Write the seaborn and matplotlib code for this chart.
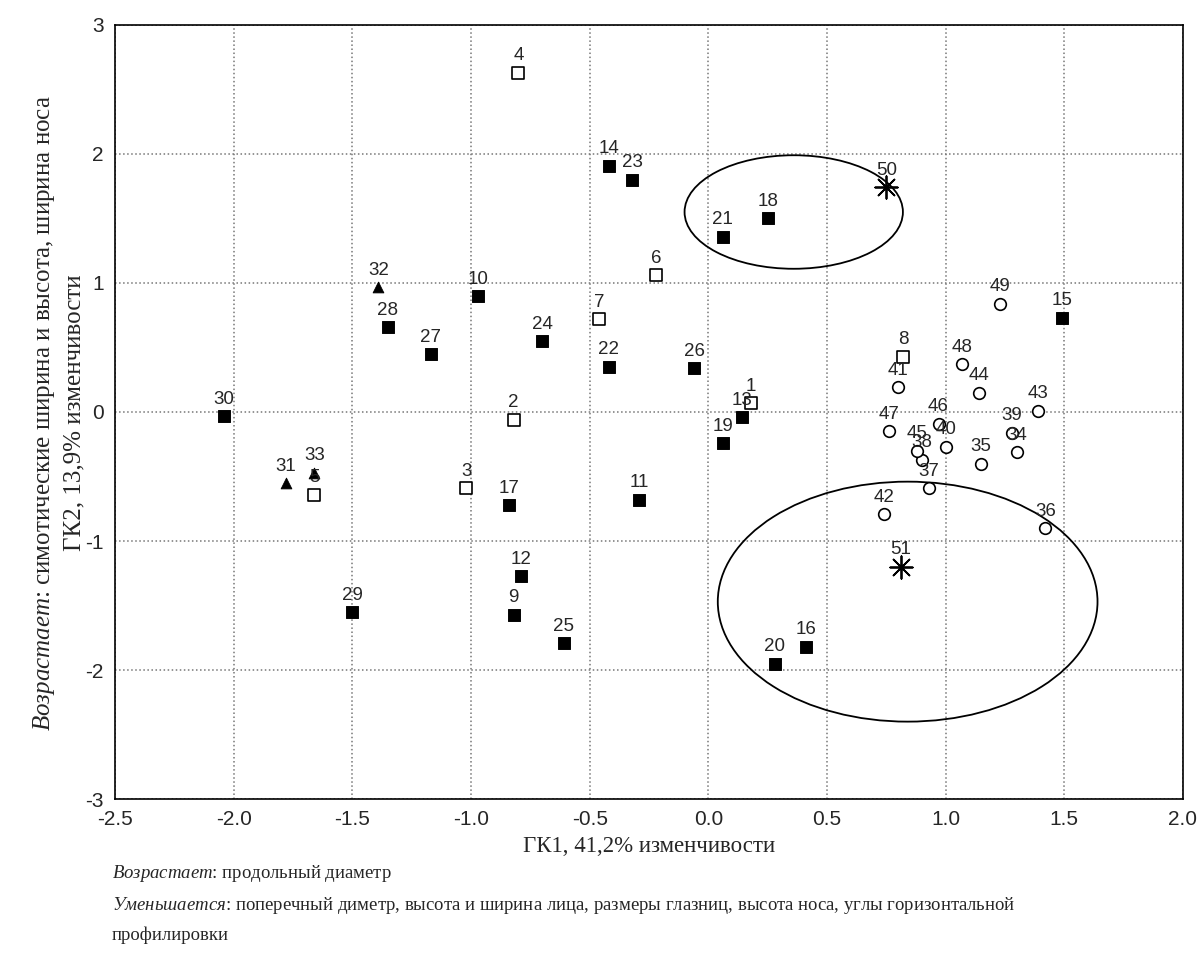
import matplotlib
matplotlib.use("Agg")
import pandas as pd
import seaborn as sns
import matplotlib.pyplot as plt
from matplotlib.patches import Ellipse
from matplotlib.ticker import MultipleLocator, FormatStrFormatter

# --- data ---
# filled squares
fill_ids = [9, 10, 11, 12, 13, 14, 15, 16, 17, 18, 19, 20, 21, 22, 23, 24, 25, 26, 27, 28, 29, 30]
fill_x = [-0.82, -0.97, -0.29, -0.79, 0.14, -0.42, 1.49, 0.41, -0.84, 0.25, 0.06,
          0.28, 0.06, -0.42, -0.32, -0.70, -0.61, -0.06, -1.17, -1.35, -1.50, -2.04]
fill_y = [-1.57, 0.90, -0.68, -1.27, -0.04, 1.91, 0.73, -1.82, -0.72, 1.50, -0.24,
          -1.95, 1.36, 0.35, 1.80, 0.55, -1.79, 0.34, 0.45, 0.66, -1.55, -0.03]

# hollow squares
open_ids = [1, 2, 3, 4, 5, 6, 7, 8]
open_x = [0.18, -0.82, -1.02, -0.80, -1.66, -0.22, -0.46, 0.82]
open_y = [0.07, -0.06, -0.59, 2.63, -0.64, 1.06, 0.72, 0.43]

# triangles
tri_ids = [31, 32, 33]
tri_x = [-1.78, -1.39, -1.66]
tri_y = [-0.55, 0.97, -0.47]

# hollow circles
circ_ids = [34, 35, 36, 37, 38, 39, 40, 41, 42, 43, 44, 45, 46, 47, 48, 49]
circ_x = [1.30, 1.15, 1.42, 0.93, 0.90, 1.28, 1.00, 0.80, 0.74, 1.39, 1.14, 0.88, 0.97, 0.76, 1.07, 1.23]
circ_y = [-0.31, -0.40, -0.90, -0.59, -0.37, -0.16, -0.27, 0.19, -0.79, 0.01, 0.15, -0.30, -0.09, -0.15, 0.37, 0.84]

# group centroids (asterisks)
star_ids = [50, 51]
star_x = [0.75, 0.81]
star_y = [1.74, -1.20]

# ellipses around centroids
ell_cx = [0.36, 0.84]
ell_cy = [1.55, -1.47]
ell_w = [0.92, 1.60]
ell_h = [0.88, 1.86]

x_ticks = [-2.5, -2.0, -1.5, -1.0, -0.5, 0.0, 0.5, 1.0, 1.5, 2.0]
y_ticks = [-3, -2, -1, 0, 1, 2, 3]

sns.set_style("white")
plt.rcParams['font.family'] = ['Liberation Sans', 'DejaVu Sans']
plt.rcParams['axes.unicode_minus'] = False
plt.rcParams['mathtext.fontset'] = 'custom'
plt.rcParams['mathtext.rm'] = 'Liberation Serif'
plt.rcParams['mathtext.it'] = 'Liberation Serif:italic'

fig = plt.figure(figsize=(12, 9.59), dpi=100)
ax = fig.add_axes([0.0958, 0.1668, 0.8900, 0.8072])

groups = [
    (fill_ids, fill_x, fill_y, dict(marker='s', color='black', edgecolor='black', s=70)),
    (open_ids, open_x, open_y, dict(marker='s', facecolor='white', edgecolor='black', s=70, linewidth=1.2)),
    (tri_ids, tri_x, tri_y, dict(marker='^', color='black', edgecolor='black', s=60)),
    (circ_ids, circ_x, circ_y, dict(marker='o', facecolor='white', edgecolor='black', s=70, linewidth=1.2)),
    (star_ids, star_x, star_y, dict(marker=(8, 2, 0), color='black', s=260, linewidth=1.3)),
]

for ids, xs, ys, style in groups:
    df = pd.DataFrame({'x': xs, 'y': ys, 'id': ids})
    sns.scatterplot(data=df, x='x', y='y', ax=ax, zorder=3, legend=False, **style)
    for i, xv, yv in zip(ids, xs, ys):
        ax.annotate(str(i), (xv, yv), xytext=(0, 6), textcoords='offset points',
                    ha='center', va='bottom', fontsize=13.5, zorder=4)

for cx, cy, w, h in zip(ell_cx, ell_cy, ell_w, ell_h):
    ax.add_patch(Ellipse((cx, cy), w, h, fill=False, edgecolor='black', linewidth=1.3, zorder=2))

ax.set_xlim(-2.5, 2.0)
ax.set_ylim(-3, 3)
ax.set_xticks(x_ticks)
ax.set_yticks(y_ticks)
ax.xaxis.set_major_formatter(FormatStrFormatter('%.1f'))
ax.xaxis.set_minor_locator(MultipleLocator(0.1))
ax.yaxis.set_minor_locator(MultipleLocator(0.2))
ax.tick_params(which='both', direction='in', labelsize=15, top=False, right=False, pad=8)
ax.tick_params(which='major', length=6)
ax.tick_params(which='minor', length=3)
ax.grid(True, which='major', linestyle=':', color='#777777', linewidth=1.1)
for sp in ax.spines.values():
    sp.set_color('black')
    sp.set_linewidth(1.2)

ax.set_xlabel('ГК1, 41,2% изменчивости', fontfamily='Liberation Serif', fontsize=16.5, labelpad=5)
ax.set_ylabel('')

# two-line y-axis label
fig.text(0.062, 0.5695, 'ГК2, 13,9% изменчивости', rotation=90, ha='center', va='center',
         fontfamily='Liberation Serif', fontsize=18)
fig.text(0.037, 0.5695, r'$\mathit{Возрастает}$: симотические ширина и высота, ширина носа',
         rotation=90, ha='center', va='center', fontfamily='Liberation Serif', fontsize=18)

# notes under the chart
fig.text(0.093, 0.089, r'$\mathit{Возрастает}$: продольный диаметр',
         ha='left', va='center', fontfamily='Liberation Serif', fontsize=13.5)
fig.text(0.093, 0.056, r'$\mathit{Уменьшается}$: поперечный диметр, высота и ширина лица, размеры глазниц, '
         'высота носа, углы горизонтальной',
         ha='left', va='center', fontfamily='Liberation Serif', fontsize=13.5)
fig.text(0.093, 0.025, 'профилировки',
         ha='left', va='center', fontfamily='Liberation Serif', fontsize=13.5)

fig.savefig('out.png', dpi=100)
